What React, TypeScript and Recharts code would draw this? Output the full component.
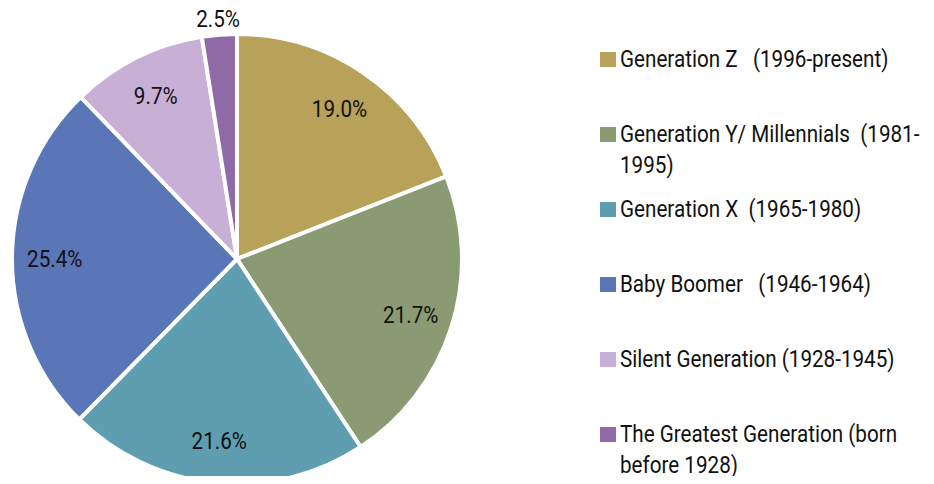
import React from 'react';
import { PieChart, Pie, Cell, Legend } from 'recharts';

const generations = [
  'Generation Z   (1996-present)',
  'Generation Y/ Millennials  (1981-1995)',
  'Generation X  (1965-1980)',
  'Baby Boomer   (1946-1964)',
  'Silent Generation (1928-1945)',
  'The Greatest Generation (born before 1928)',
];
const shares = [19.0, 21.7, 21.6, 25.4, 9.7, 2.5];
const colors = ['#B8A25A', '#8A9A72', '#5E9EB0', '#5A76B6', '#C8AFD6', '#8F6AA6'];

const data = generations.map((name, i) => ({ name, value: shares[i] }));

// no DIN-style font offline, so squeeze Roboto a bit
const FONT = 'Roboto, "DejaVu Sans Condensed", sans-serif';
const SQUEEZE = 0.86;
const RAD = Math.PI / 180;

const renderLabel = (p: any) => {
  const { cx, cy, midAngle, outerRadius, value } = p;
  // tiny slices get their label outside the rim
  const r = value < 5 ? outerRadius + 16 : outerRadius * 0.81;
  const x = cx + r * Math.cos(-midAngle * RAD);
  const y = cy + r * Math.sin(-midAngle * RAD);
  return (
    <text
      transform={`translate(${x},${y}) scale(${SQUEEZE},1)`}
      fill="#111"
      fontSize={24}
      fontFamily={FONT}
      textAnchor="middle"
      dominantBaseline="central"
    >
      {value.toFixed(1)}%
    </text>
  );
};

const LegendList = () => (
  <div style={{ fontFamily: FONT, fontSize: 24, color: '#111' }}>
    {data.map((d, i) => (
      <div key={i} style={{ position: 'relative', height: 75 }}>
        <div style={{ position: 'absolute', left: 0, top: 8, width: 16, height: 15, background: colors[i] }} />
        <div
          style={{
            position: 'absolute',
            left: 20,
            top: 0,
            width: 312 / SQUEEZE,
            lineHeight: '31px',
            whiteSpace: 'pre-wrap',
            transform: `scaleX(${SQUEEZE})`,
            transformOrigin: 'left top',
          }}
        >
          {d.name}
        </div>
      </div>
    ))}
  </div>
);

export default function App() {
  return (
    <div style={{ margin: -8, width: 934, height: 484, background: '#fff' }}>
      <PieChart width={934} height={484} margin={{ top: 0, right: 0, bottom: 0, left: 0 }}>
        <Pie
          data={data}
          dataKey="value"
          nameKey="name"
          cx={237}
          cy={259}
          outerRadius={225}
          startAngle={90}
          endAngle={-270}
          stroke="#fff"
          strokeWidth={4}
          label={renderLabel}
          labelLine={false}
          isAnimationActive={false}
        >
          {data.map((_, i) => (
            <Cell key={i} fill={colors[i]} />
          ))}
        </Pie>
        <Legend
          layout="vertical"
          align="right"
          verticalAlign="top"
          content={<LegendList />}
          wrapperStyle={{ left: 600, top: 44, width: 330 }}
        />
      </PieChart>
    </div>
  );
}
